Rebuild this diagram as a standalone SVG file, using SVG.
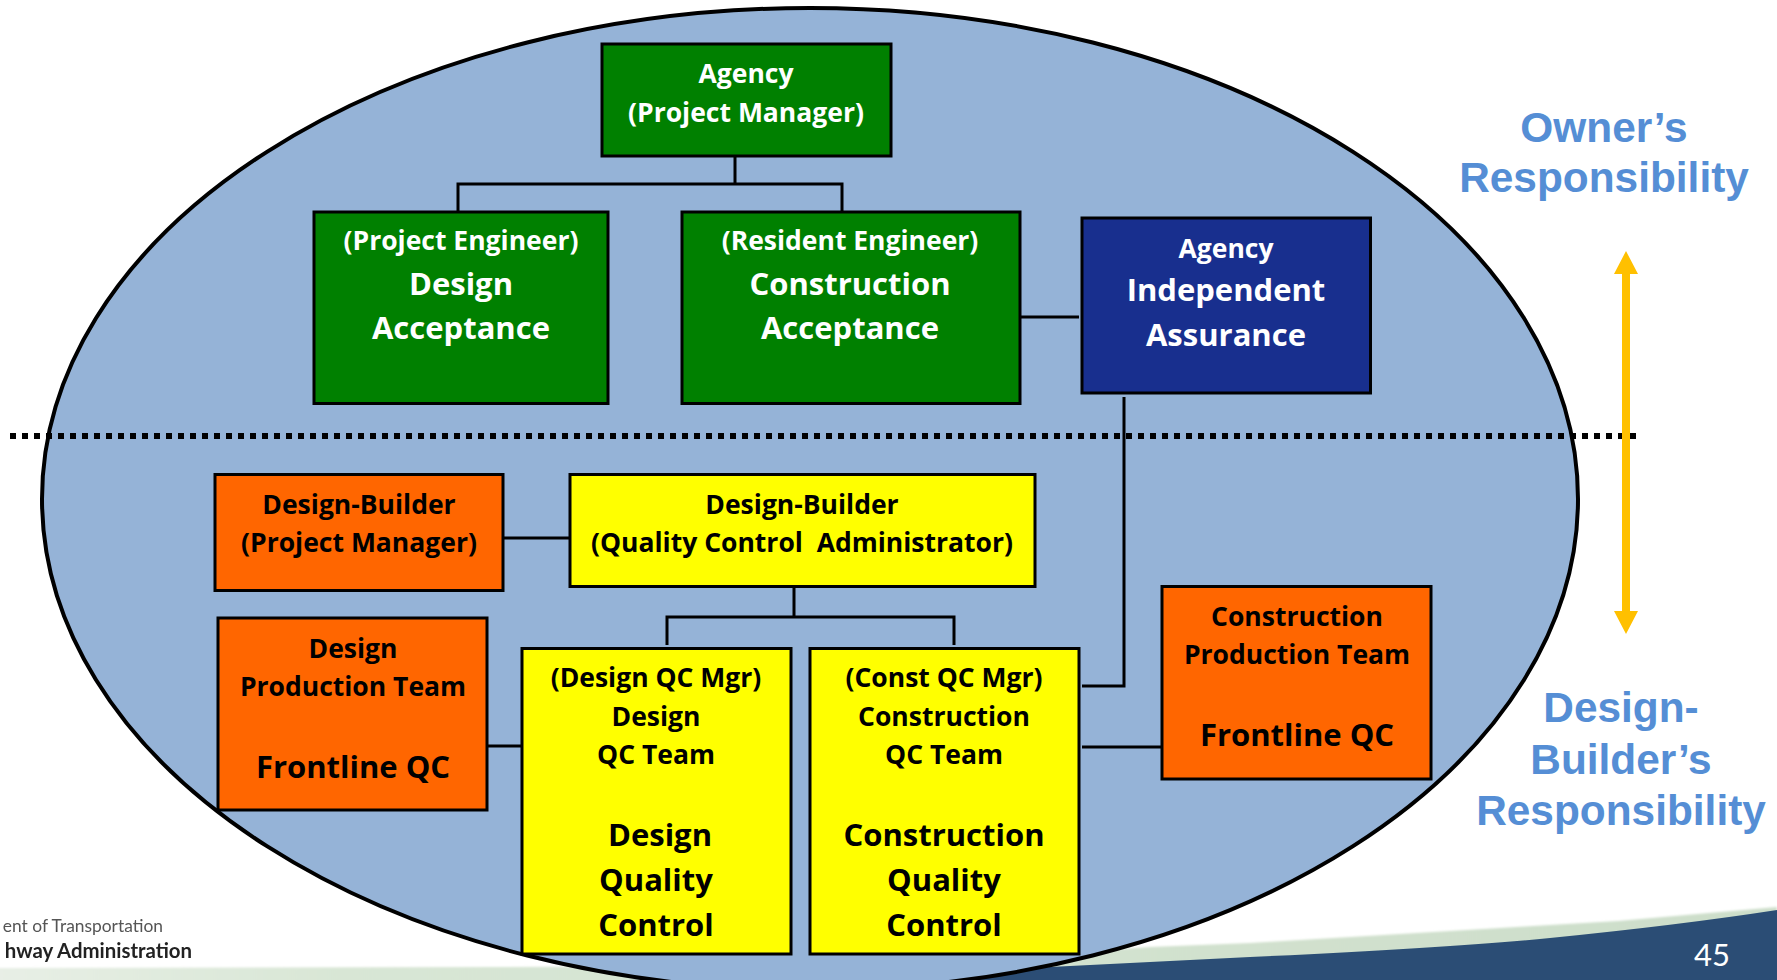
<svg xmlns="http://www.w3.org/2000/svg" width="1777" height="980" viewBox="0 0 1777 980">
<defs>
<linearGradient id="band" x1="0" y1="0" x2="1" y2="0"><stop offset="0" stop-color="#E8EFE6"/><stop offset=".2" stop-color="#D8E6D5"/><stop offset="1" stop-color="#CDDECA"/></linearGradient>
<filter id="soft" x="-5%" y="-20%" width="110%" height="140%"><feGaussianBlur stdDeviation="1"/></filter>
<filter id="softer" x="-5%" y="-20%" width="110%" height="140%"><feGaussianBlur stdDeviation="0.5"/></filter>
</defs>
<style>
.box{stroke:#000;stroke-width:3}
.g{fill:#008000}.n{fill:#182F8E}.o{fill:#FF6600}.y{fill:#FFFF00}
text{font-family:"Open Sans","Noto Sans",sans-serif;font-weight:700;text-anchor:middle;white-space:pre}
.s{font-size:26.5px}.b{font-size:31px}
.w{fill:#fff}.k{fill:#000}
.side{font-family:"Liberation Sans",Arial,sans-serif;font-size:42.4px;fill:#558ED5}
.c{fill:none;stroke:#000;stroke-width:3}
</style>
<rect width="1777" height="980" fill="#fff"/>
<g id="footer">
<path d="M-10,968 L500,967 Q800,966 1050,954 L1150,947 L1250,943 L1550,925 L1618,921 L1777,907 V990 H-10Z" fill="url(#band)" filter="url(#soft)"/>
<path d="M590,981 Q900,973 1050,967 L1250,957 Q1450,948 1550,938 Q1680,925 1777,910 V981Z" fill="#2B4D75"/>
<g filter="url(#softer)">
<text x="163" y="932" style="font-family:'Lato',sans-serif;font-weight:400;font-size:17.4px;text-anchor:end;fill:#555">ent of Transportation</text>
<text x="192" y="958" style="font-family:'Lato',sans-serif;font-weight:700;font-size:20.4px;text-anchor:end;fill:#222">hway Administration</text>
</g>
<text x="1712" y="966" style="font-family:'Lato',sans-serif;font-weight:400;font-size:31px;fill:#fff">45</text>
</g>
<ellipse id="scope" cx="810" cy="499" rx="768" ry="491" fill="#95B3D7" stroke="#000" stroke-width="4"/>
<line id="divider" x1="10" y1="436" x2="1638" y2="436" stroke="#000" stroke-width="6" stroke-dasharray="6 6"/>
<g id="connectors">
<path class="c" d="M735,156V184M458,212V184H842V212"/>
<path class="c" d="M1021,317H1079"/>
<path class="c" d="M1124,397V686H1082"/>
<path class="c" d="M503,538H570"/>
<path class="c" d="M794,586V617M667,645V617H954V645"/>
<path class="c" d="M483,746H521"/>
<path class="c" d="M1082,747H1162"/>
</g>
<g id="range-arrow">
<path d="M1622,274H1614L1626,251L1638,274H1630V611H1638L1626,634L1614,611H1622Z" fill="#FFC000"/>
</g>
<g id="owner-label"><text class="side" x="1604" y="142">Owner’s</text><text class="side" x="1604" y="192">Responsibility</text></g>
<g id="builder-label"><text class="side" x="1621" y="722">Design-</text><text class="side" x="1621" y="774">Builder’s</text><text class="side" x="1621" y="825">Responsibility</text></g>
<g id="agency-pm"><rect class="box g" x="602" y="44" width="289" height="112"/><text class="s w" x="746" y="83">Agency</text><text class="s w" x="746" y="122">(Project Manager)</text></g>
<g id="design-acceptance"><rect class="box g" x="314" y="212" width="294" height="191.5"/><text class="s w" x="461" y="250">(Project Engineer)</text><text class="b w" x="461" y="295">Design</text><text class="b w" x="461" y="339">Acceptance</text></g>
<g id="construction-acceptance"><rect class="box g" x="682" y="212" width="338" height="191.5"/><text class="s w" x="850" y="250">(Resident Engineer)</text><text class="b w" x="850" y="295">Construction</text><text class="b w" x="850" y="339">Acceptance</text></g>
<g id="independent-assurance"><rect class="box n" x="1082" y="218" width="288.5" height="175"/><text class="s w" x="1226" y="258">Agency</text><text class="b w" x="1226" y="301">Independent</text><text class="b w" x="1226" y="346">Assurance</text></g>
<g id="db-pm"><rect class="box o" x="215" y="474.5" width="288" height="116"/><text class="s k" x="359" y="514">Design-Builder</text><text class="s k" x="359" y="552">(Project Manager)</text></g>
<g id="db-qca"><rect class="box y" x="570" y="474.5" width="465" height="112"/><text class="s k" x="802" y="514">Design-Builder</text><text class="s k" x="802" y="552">(Quality Control  Administrator)</text></g>
<g id="design-production"><rect class="box o" x="218" y="618" width="269" height="192"/><text class="s k" x="353" y="658">Design</text><text class="s k" x="353" y="696">Production Team</text><text class="b k" x="353" y="778">Frontline QC</text></g>
<g id="design-qc"><rect class="box y" x="522" y="648.5" width="269" height="305.5"/><text class="s k" x="656" y="687">(Design QC Mgr)</text><text class="s k" x="656" y="726">Design</text><text class="s k" x="656" y="764">QC Team</text><text class="b k" x="660" y="846">Design</text><text class="b k" x="656" y="891">Quality</text><text class="b k" x="656" y="936">Control</text></g>
<g id="construction-qc"><rect class="box y" x="810" y="648.5" width="269" height="305.5"/><text class="s k" x="944" y="687">(Const QC Mgr)</text><text class="s k" x="944" y="726">Construction</text><text class="s k" x="944" y="764">QC Team</text><text class="b k" x="944" y="846">Construction</text><text class="b k" x="944" y="891">Quality</text><text class="b k" x="944" y="936">Control</text></g>
<g id="construction-production"><rect class="box o" x="1162" y="586.5" width="269" height="192.5"/><text class="s k" x="1297" y="626">Construction</text><text class="s k" x="1297" y="664">Production Team</text><text class="b k" x="1297" y="746">Frontline QC</text></g>
</svg>
